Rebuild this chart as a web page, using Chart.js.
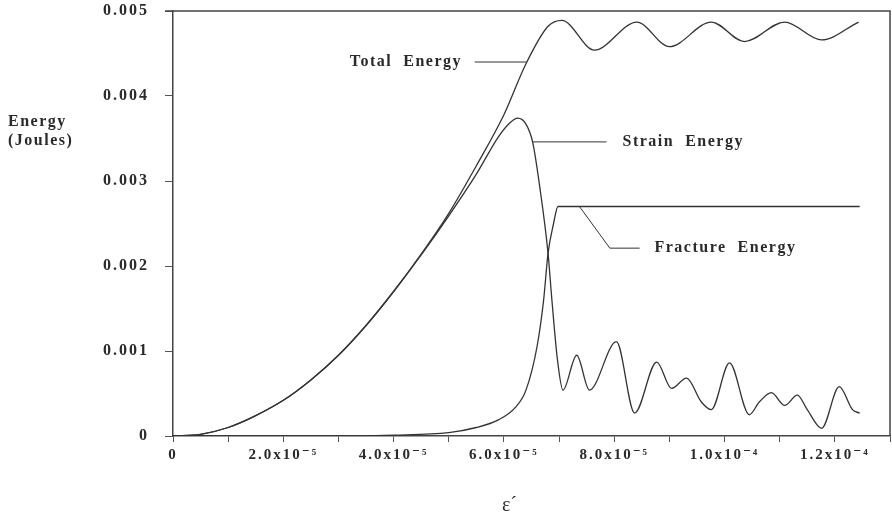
<!DOCTYPE html>
<html>
<head>
<meta charset="utf-8">
<script src="https://cdn.jsdelivr.net/npm/chart.js@4"></script>
<style>
  html, body { margin: 0; padding: 0; background: #ffffff; }
  #wrap { width: 892px; height: 518px; }
</style>
</head>
<body>
<div id="wrap"><canvas id="c" width="892" height="518"></canvas></div>
<script>
// ---- data (x in strain units, y in Joules) ----
const totalX = [0, 0.5e-5, 1.0e-5, 1.5e-5, 2.0e-5, 2.5e-5, 3.0e-5, 3.5e-5, 4.0e-5, 4.5e-5, 5.0e-5, 5.5e-5, 6.0e-5, 6.4e-5, 6.8e-5, 7.05e-5, 7.64e-5, 8.41e-5, 9.0e-5, 9.76e-5, 10.36e-5, 11.09e-5, 11.76e-5, 12.43e-5];
const totalY = [0, 0.00002, 0.0001, 0.00024, 0.00042, 0.00066, 0.00095, 0.0013, 0.0017, 0.00214, 0.00262, 0.00318, 0.00378, 0.00438, 0.00482, 0.00489, 0.00454, 0.00487, 0.00458, 0.00487, 0.00464, 0.00487, 0.00466, 0.00487];

const strainX = [0, 0.5e-5, 1.0e-5, 1.5e-5, 2.0e-5, 2.5e-5, 3.0e-5, 3.5e-5, 4.0e-5, 4.5e-5, 5.0e-5, 5.5e-5, 5.9e-5, 6.1e-5, 6.25e-5, 6.4e-5, 6.52e-5, 6.65e-5, 6.8e-5, 6.87e-5, 6.97e-5, 7.07e-5, 7.32e-5, 7.55e-5, 8.04e-5, 8.37e-5, 8.77e-5, 9.04e-5, 9.31e-5, 9.58e-5, 9.76e-5, 10.09e-5, 10.45e-5, 10.63e-5, 10.85e-5, 11.09e-5, 11.32e-5, 11.5e-5, 11.76e-5, 12.08e-5, 12.32e-5, 12.45e-5];
const strainY = [0, 0.00002, 0.0001, 0.00024, 0.00042, 0.00066, 0.00095, 0.0013, 0.0017, 0.00213, 0.00259, 0.00308, 0.00352, 0.00368, 0.00374, 0.00367, 0.00346, 0.00293, 0.00215, 0.0016, 0.0009, 0.00054, 0.00095, 0.00054, 0.00111, 0.00027, 0.00087, 0.00056, 0.00068, 0.0004, 0.00031, 0.00086, 0.00025, 0.0004, 0.00051, 0.00036, 0.00048, 0.00031, 0.00009, 0.00058, 0.00031, 0.00027];

const fractureX = [0, 3.0e-5, 4.0e-5, 5.0e-5, 5.5e-5, 5.9e-5, 6.2e-5, 6.4e-5, 6.6e-5, 6.72e-5, 6.8e-5, 6.9e-5, 6.98e-5, 7.1e-5, 12.45e-5];
const fractureY = [0, 0, 0.00001, 0.00004, 0.0001, 0.00019, 0.00033, 0.00054, 0.00105, 0.0016, 0.00215, 0.0025, 0.0027, 0.0027, 0.0027];

const xTickLabels = ['0', '2.0x10⁻⁵', '4.0x10⁻⁵', '6.0x10⁻⁵', '8.0x10⁻⁵', '1.0x10⁻⁴', '1.2x10⁻⁴'];
const yTickLabels = ['0', '0.001', '0.002', '0.003', '0.004', '0.005'];
const seriesNames = ['Total Energy', 'Strain Energy', 'Fracture Energy'];

// ---- annotation layout (data-space anchors) ----
const labelAnchors = [
  { text: 'Total  Energy',    x: 5.24e-5, y: 0.0044,  align: 'right' },
  { text: 'Strain  Energy',   x: 8.15e-5, y: 0.00346, align: 'left' },
  { text: 'Fracture  Energy', x: 8.73e-5, y: 0.00221, align: 'left' }
];
const leaderPaths = [
  [[5.47e-5, 0.0044], [6.41e-5, 0.0044]],
  [[6.52e-5, 0.00346], [7.86e-5, 0.00346]],
  [[7.37e-5, 0.0027], [7.92e-5, 0.00221], [8.46e-5, 0.00221]]
];

const SERIF = '"Liberation Serif", "DejaVu Serif", serif';
const INK = '#2a2a2a';

function pts(xs, ys) { return xs.map((x, i) => ({ x: x, y: ys[i] })); }

const spacing = {
  id: 'spacing',
  beforeUpdate(c) { c.ctx.letterSpacing = '2px'; },
  beforeDraw(c) {
    const ctx = c.ctx;
    ctx.save();
    ctx.fillStyle = '#ffffff';
    ctx.fillRect(0, 0, c.width, c.height);
    ctx.restore();
    ctx.letterSpacing = '2px';
  }
};

const decor = {
  id: 'decor',
  afterDraw(c) {
    const ctx = c.ctx, xs = c.scales.x, ys = c.scales.y, a = c.chartArea;
    ctx.save();
    // box top and right
    ctx.strokeStyle = '#444';
    ctx.lineWidth = 1.5;
    ctx.beginPath();
    ctx.moveTo(a.left - 8, a.top);
    ctx.lineTo(a.right, a.top);
    ctx.lineTo(a.right, a.bottom);
    ctx.stroke();
    // leader lines
    ctx.strokeStyle = '#333';
    ctx.lineWidth = 1;
    leaderPaths.forEach(p => {
      ctx.beginPath();
      p.forEach((q, i) => {
        const px = xs.getPixelForValue(q[0]), py = ys.getPixelForValue(q[1]);
        if (i === 0) ctx.moveTo(px, py); else ctx.lineTo(px, py);
      });
      ctx.stroke();
    });
    // annotation texts
    ctx.fillStyle = INK;
    ctx.font = 'bold 16px ' + SERIF;
    ctx.letterSpacing = '1.5px';
    ctx.textBaseline = 'middle';
    labelAnchors.forEach(l => {
      ctx.textAlign = l.align;
      ctx.fillText(l.text, xs.getPixelForValue(l.x), ys.getPixelForValue(l.y));
    });
    // y-axis title
    ctx.textAlign = 'left';
    ctx.font = 'bold 16px ' + SERIF;
    ctx.letterSpacing = '1.5px';
    const ty = ys.getPixelForValue(0.00369);
    ctx.fillText('Energy', 8, ty);
    ctx.fillText('(Joules)', 8, ty + 19);
    // x-axis title
    ctx.textAlign = 'center';
    ctx.font = '20px ' + SERIF;
    ctx.letterSpacing = '0px';
    ctx.fillText('ε´', xs.getPixelForValue(6.1e-5), a.bottom + 70);
    ctx.restore();
  }
};

const lineStyle = {
  borderColor: '#333',
  borderWidth: 1.3,
  pointRadius: 0,
  fill: false,
  cubicInterpolationMode: 'monotone'
};

new Chart(document.getElementById('c'), {
  type: 'line',
  data: {
    datasets: [
      Object.assign({ label: seriesNames[0], data: pts(totalX, totalY) }, lineStyle),
      Object.assign({ label: seriesNames[1], data: pts(strainX, strainY) }, lineStyle),
      Object.assign({ label: seriesNames[2], data: pts(fractureX, fractureY) }, lineStyle)
    ]
  },
  options: {
    responsive: false,
    devicePixelRatio: 1,
    animation: false,
    layout: { padding: { top: 11, right: 2, left: 0, bottom: 0 } },
    plugins: { legend: { display: false }, tooltip: { enabled: false } },
    scales: {
      x: {
        type: 'linear',
        min: 0,
        max: 1.3e-4,
        afterFit(s) { s.height = 82; s.paddingLeft = 0; s.paddingRight = 0; },
        border: { color: '#444', width: 1.5 },
        grid: { drawOnChartArea: false, tickLength: 6, color: '#555', lineWidth: 1 },
        ticks: {
          stepSize: 1e-5,
          autoSkip: false,
          maxRotation: 0,
          padding: 4,
          color: INK,
          font: { family: SERIF, size: 15, weight: 'bold' },
          callback: (v, i) => (i % 2 === 0 ? (xTickLabels[i / 2] || '') : '')
        }
      },
      y: {
        min: 0,
        max: 0.005,
        afterFit(s) { s.width = 173; s.paddingTop = 0; s.paddingBottom = 0; },
        border: { color: '#444', width: 1.5 },
        grid: { drawOnChartArea: false, tickLength: 8, color: '#555', lineWidth: 1 },
        ticks: {
          stepSize: 0.001,
          padding: 16,
          color: INK,
          font: { family: SERIF, size: 16, weight: 'bold' },
          callback: (v, i) => yTickLabels[i]
        }
      }
    }
  },
  plugins: [spacing, decor]
});
</script>
</body>
</html>
